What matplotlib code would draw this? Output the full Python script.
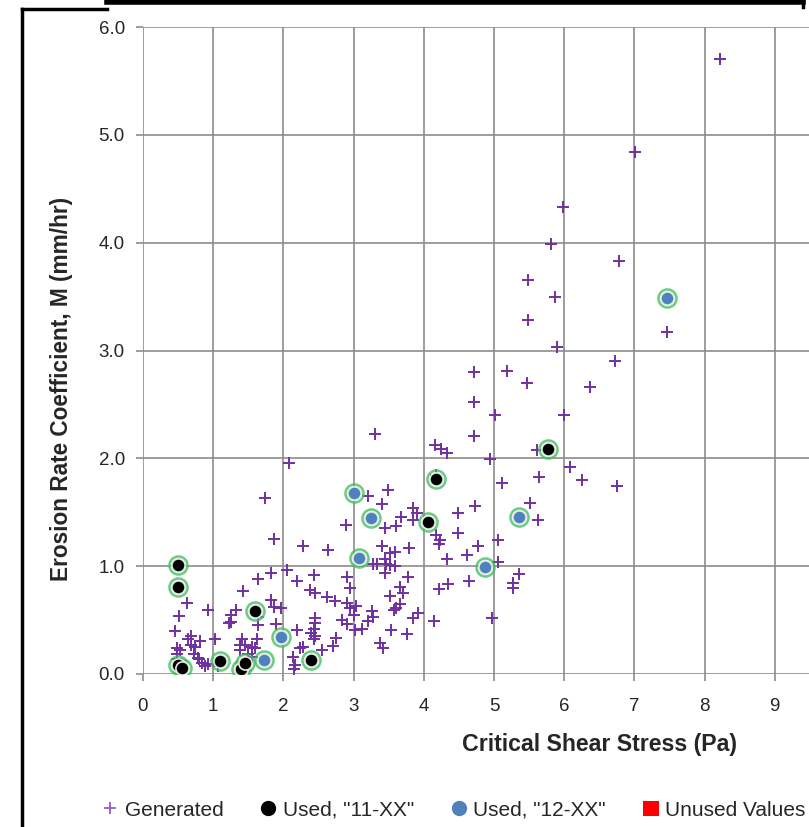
import matplotlib
matplotlib.use('Agg')
import matplotlib.pyplot as plt
from matplotlib.lines import Line2D
from matplotlib.patches import Patch

plt.rcParams['font.family'] = ['Liberation Sans', 'DejaVu Sans']

# generated (tau_c, M) pairs
gen_x = [8.22, 7.01, 5.98, 5.81, 6.78, 5.48, 5.87, 5.48, 7.46, 5.90, 6.72, 5.18, 4.72, 5.47,
         6.37, 4.72, 5.01, 6.00, 3.30, 4.72, 4.16, 4.25, 4.33, 5.61, 4.94, 2.08, 6.08, 6.25,
         6.75, 5.64, 5.11, 4.18, 1.74, 3.49, 3.20, 3.41, 5.51, 4.73, 3.85, 3.90, 4.49, 3.68,
         3.85, 5.62, 2.89, 3.45, 3.61, 4.49, 4.18, 4.23, 4.21, 5.06, 1.87, 2.28, 2.63, 3.41,
         3.79, 4.77, 3.52, 3.59, 4.62, 4.33, 3.45, 3.46, 3.52, 3.28, 3.33, 3.59, 5.06, 2.05,
         1.83, 3.45, 5.35, 2.43, 3.77, 2.90, 1.64, 2.20, 4.65, 5.27, 5.27, 4.35, 2.95, 3.66,
         4.22, 2.38, 1.42, 2.45, 3.70, 3.52, 2.62, 2.74, 1.83, 0.62, 2.90, 3.66, 3.04, 1.86,
         2.95, 3.61, 1.96, 0.93, 1.32, 3.26, 3.57, 3.92, 1.26, 3.00, 0.51, 1.64, 3.28, 3.85,
         4.97, 2.45, 2.83, 3.21, 4.15, 1.22, 1.25, 1.89, 2.45, 2.90, 1.64, 2.43, 2.19, 3.02,
         3.12, 3.53, 0.46, 2.40, 3.76, 0.69, 2.45, 1.62, 1.41, 0.64, 0.81, 1.03, 2.44, 2.75,
         3.38, 3.42, 1.38, 1.45, 0.69, 0.74, 2.70, 2.28, 2.24, 1.60, 1.55, 0.49, 0.53, 1.38,
         2.55, 0.72, 0.49, 1.50, 2.14, 1.55, 0.79, 0.80, 0.84, 0.93, 0.88, 1.07, 2.17, 2.15,
         0.48]
gen_y = [5.70, 4.84, 4.33, 3.99, 3.83, 3.65, 3.50, 3.28, 3.17, 3.03, 2.90, 2.81, 2.80, 2.70,
         2.66, 2.52, 2.40, 2.40, 2.23, 2.21, 2.12, 2.09, 2.05, 2.08, 1.99, 1.96, 1.92, 1.80,
         1.74, 1.83, 1.77, 1.85, 1.63, 1.71, 1.65, 1.58, 1.59, 1.56, 1.54, 1.49, 1.49, 1.46,
         1.43, 1.43, 1.38, 1.35, 1.37, 1.31, 1.29, 1.24, 1.21, 1.24, 1.25, 1.19, 1.15, 1.19,
         1.17, 1.19, 1.12, 1.13, 1.10, 1.07, 1.07, 1.02, 1.01, 1.02, 1.02, 1.00, 1.04, 0.96,
         0.94, 0.94, 0.93, 0.92, 0.90, 0.90, 0.88, 0.86, 0.86, 0.84, 0.80, 0.83, 0.80, 0.81,
         0.79, 0.78, 0.77, 0.75, 0.75, 0.72, 0.71, 0.68, 0.69, 0.66, 0.66, 0.65, 0.63, 0.62,
         0.61, 0.61, 0.61, 0.59, 0.59, 0.58, 0.59, 0.57, 0.55, 0.55, 0.54, 0.53, 0.53, 0.52,
         0.52, 0.52, 0.50, 0.49, 0.49, 0.47, 0.48, 0.46, 0.47, 0.46, 0.45, 0.42, 0.41, 0.41,
         0.42, 0.41, 0.40, 0.38, 0.37, 0.35, 0.35, 0.32, 0.32, 0.32, 0.31, 0.32, 0.32, 0.33,
         0.29, 0.24, 0.27, 0.27, 0.27, 0.25, 0.26, 0.25, 0.24, 0.24, 0.25, 0.24, 0.22, 0.22,
         0.22, 0.19, 0.19, 0.19, 0.16, 0.16, 0.15, 0.14, 0.10, 0.09, 0.07, 0.07, 0.08, 0.05,
         0.14]

# used, "11-XX"
used11_x = [0.50, 0.50, 0.50, 0.55, 1.10, 1.40, 1.45, 1.60, 2.40, 4.06, 4.18, 5.77]
used11_y = [1.01, 0.81, 0.08, 0.06, 0.12, 0.05, 0.10, 0.58, 0.13, 1.41, 1.81, 2.09]

# used, "12-XX"
used12_x = [1.72, 1.97, 3.00, 3.25, 3.07, 4.87, 5.35, 7.47]
used12_y = [0.13, 0.34, 1.68, 1.45, 1.08, 0.99, 1.46, 3.49]

W, H = 809, 827
fig = plt.figure(figsize=(W / 100, H / 100), dpi=100)
ax = fig.add_axes([143 / W, 1 - 674 / H, 702 / W, 647 / H])

purple = '#7030A0'
green = '#44C060'
grid_c = '#8C8C8C'
text_c = '#262626'

ax.plot(gen_x, gen_y, ls='none', marker='+', ms=9, mew=1.4, color=purple, zorder=3)

# green highlight rings around the used points
ax.plot(used11_x + used12_x, used11_y + used12_y, ls='none', marker='o', ms=13,
        mfc='none', mec=green, mew=1.8, alpha=0.8, zorder=4)
ax.plot(used11_x, used11_y, ls='none', marker='o', ms=9.5, mfc='black',
        mec='#E8E8E8', mew=1.2, zorder=5)
ax.plot(used12_x, used12_y, ls='none', marker='o', ms=9.5, mfc='#4F81BD',
        mec='#E8E8E8', mew=1.2, zorder=5)

ax.set_xlim(0, 10)
ax.set_ylim(0, 6)
ax.set_xticks(range(0, 10))
ax.set_yticks([0, 1, 2, 3, 4, 5, 6])
ax.set_yticklabels([f'{v:.1f}' for v in range(7)])
ax.grid(True, color=grid_c, lw=1.2)
ax.axvline(10, color=grid_c, lw=1.2)
ax.set_axisbelow(True)
for s in ax.spines.values():
    s.set_visible(False)
ax.tick_params(axis='both', direction='out', length=5, width=1.2, color=grid_c,
               labelsize=13.5, labelcolor=text_c)
ax.tick_params(axis='y', pad=8)
ax.tick_params(axis='x', pad=12)

fig.text(62 / W, 1 - 389 / H, 'Erosion Rate Coefficient, M (mm/hr)', rotation=90,
         ha='center', va='center', fontsize=16.3, fontweight='bold', color=text_c)
fig.text(600 / W, 1 - 745 / H, 'Critical Shear Stress (Pa)', ha='center', va='center',
         fontsize=16.7, fontweight='bold', color=text_c)

handles = [
    Line2D([], [], ls='none', marker='+', ms=9, mew=1.3, color='#9B59D0'),
    Line2D([], [], ls='none', marker='o', ms=10, color='black'),
    Line2D([], [], ls='none', marker='o', ms=10, color='#4F81BD'),
    Patch(facecolor='#FF0000', edgecolor='none'),
]
labels = ['Generated', 'Used, "11-XX"', 'Used, "12-XX"', 'Unused Values']
fig.legend(handles, labels, loc='center left', bbox_to_anchor=(83 / W, 1 - 810 / H),
           ncol=4, frameon=False, fontsize=15, handlelength=0.8, handletextpad=0.3,
           columnspacing=1.75, labelcolor=text_c)

# screenshot frame lines
frame = dict(color='black', lw=2.5, transform=fig.transFigure)
fig.add_artist(Line2D([22 / W, 22 / W], [0, 1 - 9 / H], **frame))
fig.add_artist(Line2D([22 / W, 107 / W], [1 - 9 / H, 1 - 9 / H], **frame))
fig.add_artist(Line2D([107 / W, 803 / W], [1 - 2 / H, 1 - 2 / H], lw=4, color='black',
                      transform=fig.transFigure))
fig.add_artist(Line2D([803 / W, 803 / W], [1 - 2 / H, 1 - 7 / H], **frame))

fig.savefig('out.png', dpi=100)
